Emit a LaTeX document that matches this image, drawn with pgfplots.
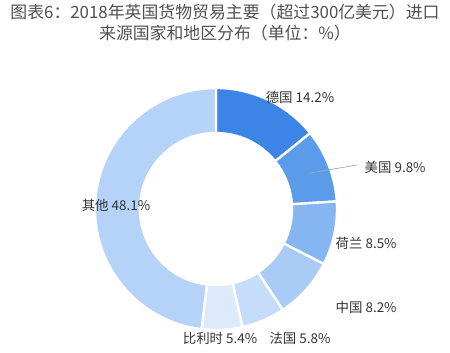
\documentclass[border=0pt]{standalone}
\usepackage{pgfplots}
\usepackage{pgfplotstable}
\pgfplotsset{compat=1.18}
\usepackage{fontspec}
\setmainfont{Noto Sans CJK SC}
\definecolor{c1}{HTML}{3C84E6}
\definecolor{c2}{HTML}{5B9CEA}
\definecolor{c3}{HTML}{86B6F1}
\definecolor{c4}{HTML}{A9CBF6}
\definecolor{c5}{HTML}{C6DDF9}
\definecolor{c6}{HTML}{DDEAFB}
\definecolor{c7}{HTML}{B5D3F8}
\definecolor{titlegray}{HTML}{505050}
\definecolor{labelgray}{HTML}{333333}
\pgfplotstableread[col sep=comma]{
name,value,color
Germany,14.2,c1
USA,9.8,c2
Netherlands,8.5,c3
China,8.2,c4
France,5.8,c5
Belgium,5.4,c6
Other,48.1,c7
}\datatable
\begin{document}
\begin{tikzpicture}
\def\Rout{3.2267cm}
\def\Rin{2.0267cm}
\def\Rdiff{1.2cm}
\begin{axis}[
  scale only axis, width=12cm, height=9.3867cm,
  xmin=0, xmax=450, ymin=0, ymax=352,
  hide axis, clip=false,
]
\coordinate (bl) at (rel axis cs:0,0);
\coordinate (tr) at (rel axis cs:1,1);
\def\cum{0}
\pgfplotsforeachungrouped \i in {0,...,6}{
  \pgfplotstablegetelem{\i}{value}\of\datatable \let\v\pgfplotsretval
  \pgfplotstablegetelem{\i}{color}\of\datatable \let\c\pgfplotsretval
  \pgfmathsetmacro\aa{90-3.6*\cum}
  \pgfmathsetmacro\cum{\cum+\v}
  \pgfmathsetmacro\ab{90-3.6*\cum}
  \edef\temp{\noexpand\fill[fill=\c, draw=white, line width=1.8pt, line join=miter]
    (axis cs:216,143) ++(\aa:\Rout) arc[start angle=\aa, end angle=\ab, radius=\Rout]
    -- ++(\ab+180:\Rdiff) arc[start angle=\ab, end angle=\aa, radius=\Rin] -- cycle;}
  \temp
}
\draw[gray!70, line width=0.5pt] (axis cs:310,179) -- (axis cs:357,187);
\begin{scope}[every node/.style={font=\fontsize{10.2pt}{12pt}\selectfont, text=labelgray}]
\node at (axis cs:300,255) {德国 14.2\%};
\node[anchor=west] at (axis cs:360,185) {美国 9.8\%};
\node[anchor=west] at (axis cs:331,109) {荷兰 8.5\%};
\node[anchor=west] at (axis cs:331,45) {中国 8.2\%};
\node at (axis cs:300,14) {法国 5.8\%};
\node at (axis cs:220,14) {比利时 5.4\%};
\node at (axis cs:116,147) {其他 48.1\%};
\end{scope}
\begin{scope}[every node/.style={font=\fontsize{12.8pt}{15pt}\selectfont, text=titlegray}]
\node at (axis cs:225,340) {图表6：2018年英国货物贸易主要（超过300亿美元）进口};
\node at (axis cs:225,319) {来源国家和地区分布（单位：\%）};
\end{scope}
\end{axis}
\pgfresetboundingbox
\path (bl) rectangle (tr);
\end{tikzpicture}
\end{document}
